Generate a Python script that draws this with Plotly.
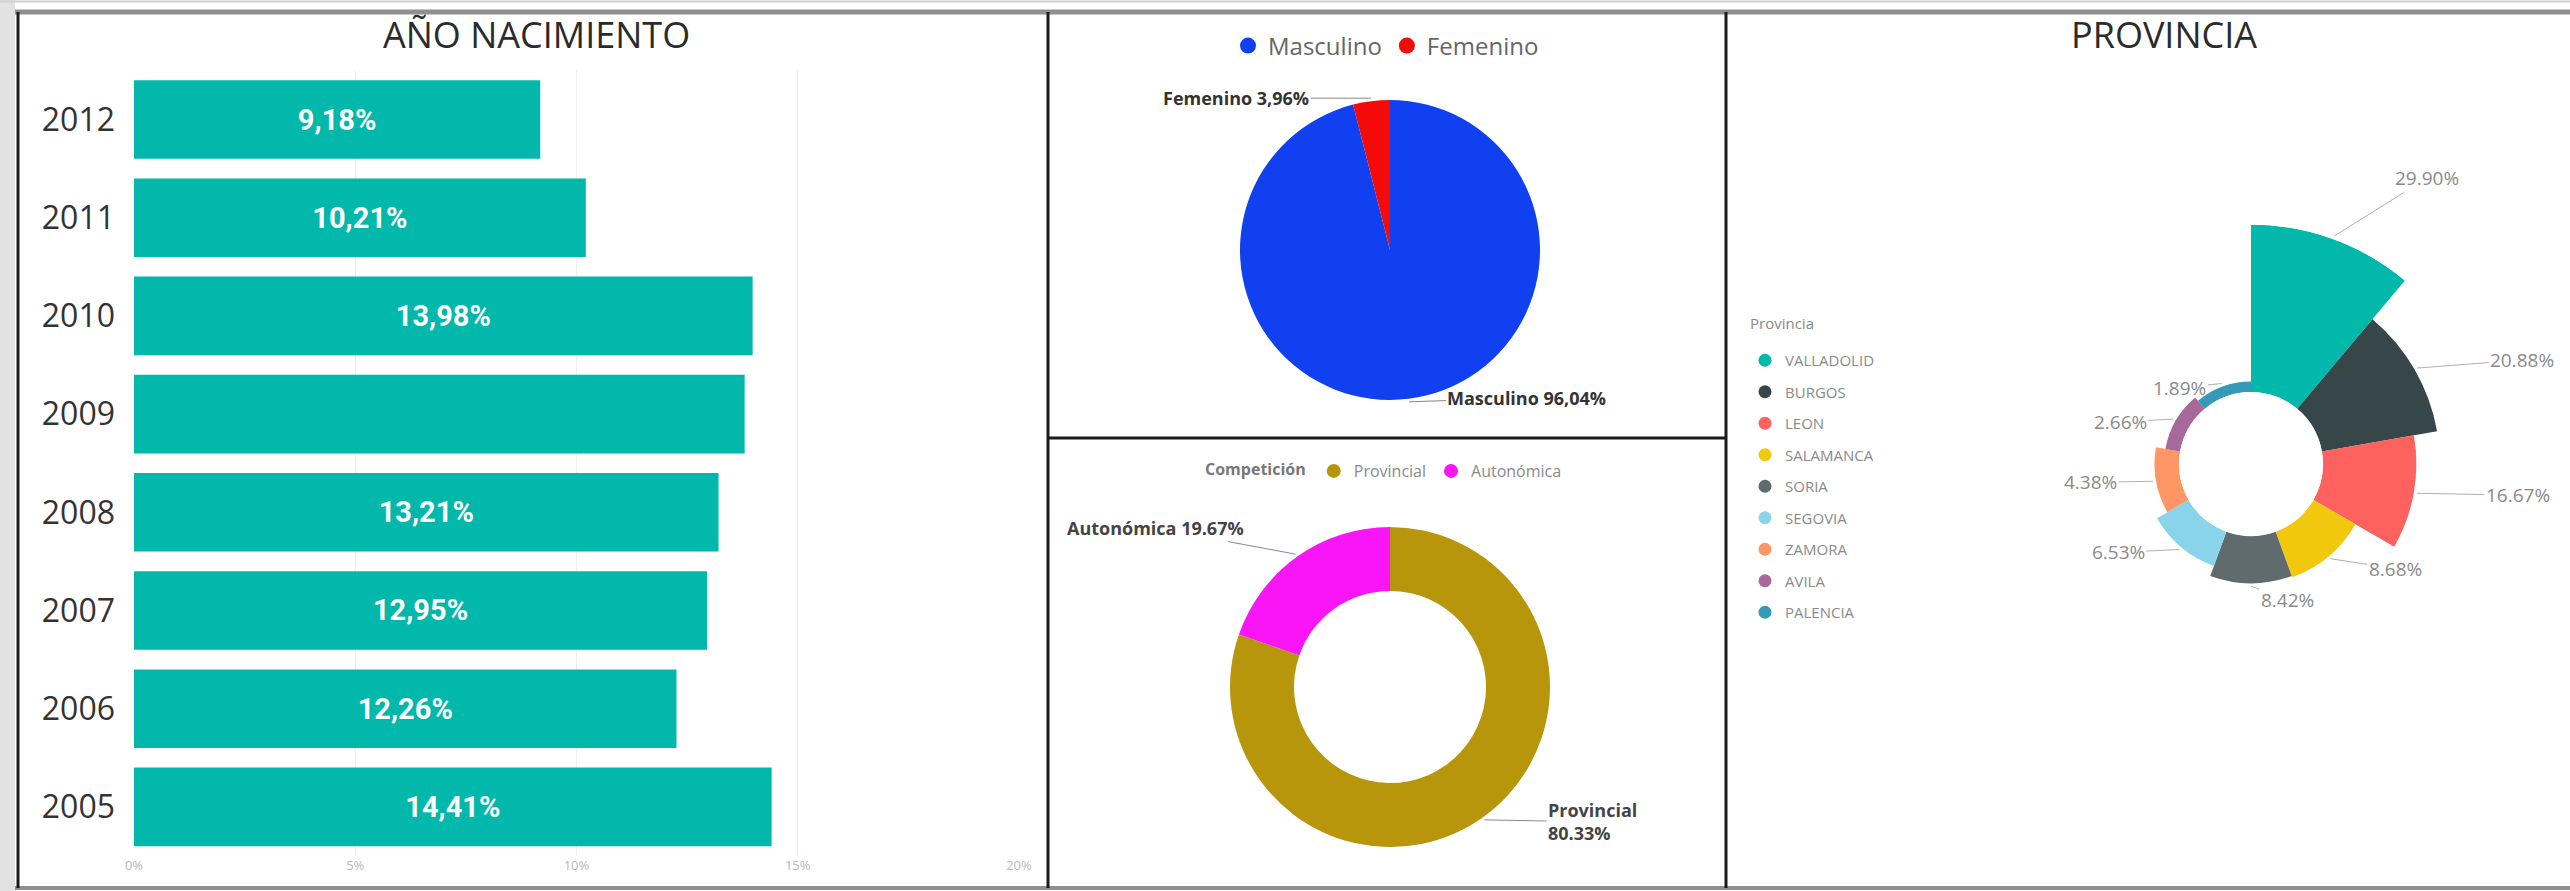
import math
import plotly.graph_objects as go

W, H = 2570, 891

# ---------------- data ----------------
years = ["2012", "2011", "2010", "2009", "2008", "2007", "2006", "2005"]
year_pct = [9.18, 10.21, 13.98, 13.80, 13.21, 12.95, 12.26, 14.41]
year_label_shown = [True, True, True, False, True, True, True, True]
x_ticks = [0, 5, 10, 15, 20]

sex_labels = ["Masculino", "Femenino"]
sex_pct = [96.04, 3.96]
sex_colors = ["#1140F0", "#F50A0A"]

comp_title = "Competición"
comp_labels = ["Provincial", "Autonómica"]
comp_pct = [80.33, 19.67]
comp_colors = ["#B8960C", "#F915F5"]

prov_title = "Provincia"
prov_labels = ["VALLADOLID", "BURGOS", "LEON", "SALAMANCA", "SORIA",
               "SEGOVIA", "ZAMORA", "AVILA", "PALENCIA"]
prov_pct = [29.90, 20.88, 16.67, 8.68, 8.42, 6.53, 4.38, 2.66, 1.89]
prov_colors = ["#01B8AA", "#374649", "#FD625E", "#F2C80F", "#5F6B6D",
               "#8AD4EB", "#FE9666", "#A66999", "#3599B8"]

# label placement (style): pixel offset of each rose label from its segment edge
prov_label_offsets = [(93, -58), (105, -8), (101, 2), (65, 10), (36, 14),
                      (-61, 3), (-62, 1), (-53, 3), (-42, 4)]


def px(x):
    return x / W


def py(y):
    return 1 - y / H


FONT = "Open Sans"

fig = go.Figure()

# ---------------- bar chart (AÑO NACIMIENTO) ----------------
bar_text = [(f"<b>{v:.2f}%</b>".replace(".", ",") if s else "")
            for v, s in zip(year_pct, year_label_shown)]
fig.add_trace(go.Bar(
    y=years, x=year_pct, orientation="h",
    marker=dict(color="#01B8AA", line=dict(width=0)),
    text=bar_text, textposition="inside", insidetextanchor="middle",
    textangle=0,
    textfont=dict(color="white", size=29, family="Roboto"),
    showlegend=False, hoverinfo="skip",
))

# ---------------- pie (sexo) ----------------
PIE1_C = (1390, 250)
PIE1_R = 150
fig.add_trace(go.Pie(
    labels=sex_labels, values=sex_pct, sort=False, direction="clockwise",
    rotation=0, textinfo="none",
    marker=dict(colors=sex_colors, line=dict(width=0)),
    domain=dict(x=[px(PIE1_C[0] - PIE1_R), px(PIE1_C[0] + PIE1_R)],
                y=[py(PIE1_C[1] + PIE1_R), py(PIE1_C[1] - PIE1_R)]),
    showlegend=False, hoverinfo="skip",
))

# ---------------- donut (competición) ----------------
PIE2_C = (1390, 687)
PIE2_R = 160
fig.add_trace(go.Pie(
    labels=comp_labels, values=comp_pct, sort=False, direction="clockwise",
    rotation=0, textinfo="none", hole=0.6,
    marker=dict(colors=comp_colors, line=dict(width=0)),
    domain=dict(x=[px(PIE2_C[0] - PIE2_R), px(PIE2_C[0] + PIE2_R)],
                y=[py(PIE2_C[1] + PIE2_R), py(PIE2_C[1] - PIE2_R)]),
    showlegend=False, hoverinfo="skip",
))

# ---------------- rose / aster (provincia) ----------------
POL_C = (2251, 464)
HOLE_PX = 72
UNIT_PX = 5.6           # pixels per percentage point
R_MAX = max(prov_pct)
POL_R = HOLE_PX + R_MAX * UNIT_PX
fig.add_trace(go.Barpolar(
    theta=prov_labels, r=prov_pct,
    marker=dict(color=prov_colors, line=dict(width=0)),
    showlegend=False, hoverinfo="skip", subplot="polar",
))

# ---------------- legend-only traces (circle markers) ----------------
for n, c in zip(sex_labels, sex_colors):
    fig.add_trace(go.Scatter(x=[None], y=[None], mode="markers", name=n,
                             marker=dict(size=18, color=c, symbol="circle"),
                             legend="legend", hoverinfo="skip"))
for n, c in zip(comp_labels, comp_colors):
    fig.add_trace(go.Scatter(x=[None], y=[None], mode="markers", name=n,
                             marker=dict(size=14, color=c, symbol="circle"),
                             legend="legend2", hoverinfo="skip"))
for n, c in zip(prov_labels, prov_colors):
    fig.add_trace(go.Scatter(x=[None], y=[None], mode="markers", name=n,
                             marker=dict(size=13, color=c, symbol="circle"),
                             legend="legend3", legendgroup=n, hoverinfo="skip"))

# ---------------- annotations: titles & labels ----------------
annotations = [
    dict(text="AÑO NACIMIENTO", x=px(536), y=py(34), xref="paper", yref="paper",
         xanchor="center", yanchor="middle",
         showarrow=False, font=dict(size=36, color="#2b2b2b", family=FONT)),
    dict(text="PROVINCIA", x=px(2164), y=py(34), xref="paper", yref="paper",
         xanchor="center", yanchor="middle",
         showarrow=False, font=dict(size=36, color="#2b2b2b", family=FONT)),
    dict(text=prov_title, x=px(1748), y=py(323), xref="paper", yref="paper",
         xanchor="left", yanchor="middle",
         showarrow=False, font=dict(size=15, color="#888888", family=FONT)),
]


def slice_anchor(center, radius, values, idx, extra=3):
    tot = sum(values)
    start = sum(values[:idx]) / tot * 360.0
    mid = start + values[idx] / tot * 360.0 / 2.0
    a = math.radians(mid)
    r = radius + extra
    return center[0] + r * math.sin(a), center[1] - r * math.cos(a)


def pie_label(center, radius, values, idx, text, ax, ay, align="left", size=18,
              color="#333333"):
    x, y = slice_anchor(center, radius, values, idx)
    return dict(text=text, x=px(x), y=py(y), xref="paper", yref="paper",
                showarrow=True, arrowhead=0, arrowwidth=1, arrowcolor="#888888",
                ax=ax, ay=ay, standoff=0, align=align,
                font=dict(size=size, color=color, family=FONT))


annotations.append(pie_label(PIE1_C, PIE1_R, sex_pct, 1,
                             f"<b>{sex_labels[1]} {sex_pct[1]:.2f}%</b>".replace(".", ","),
                             -135, 0))
annotations.append(pie_label(PIE1_C, PIE1_R, sex_pct, 0,
                             f"<b>{sex_labels[0]} {sex_pct[0]:.2f}%</b>".replace(".", ","),
                             118, -4))
annotations.append(pie_label(PIE2_C, PIE2_R, comp_pct, 1,
                             f"<b>{comp_labels[1]} {comp_pct[1]:.2f}%</b>",
                             -140, -26, color="#444444"))
annotations.append(pie_label(PIE2_C, PIE2_R, comp_pct, 0,
                             f"<b>{comp_labels[0]}<br>{comp_pct[0]:.2f}%</b>",
                             108, 2, color="#444444"))

# rose labels: anchored at the outer edge of each (equal-angle) segment
n_seg = len(prov_pct)
for i, (v, (ox, oy)) in enumerate(zip(prov_pct, prov_label_offsets)):
    ang = math.radians((i + 0.5) * 360.0 / n_seg)
    r_edge = HOLE_PX + v * UNIT_PX + 3
    ex = POL_C[0] + r_edge * math.sin(ang)
    ey = POL_C[1] - r_edge * math.cos(ang)
    annotations.append(dict(
        text=f"{v:.2f}%", x=px(ex), y=py(ey), xref="paper", yref="paper",
        showarrow=True, arrowhead=0, arrowwidth=1, arrowcolor="#b0b0b0",
        ax=ox, ay=oy, standoff=0,
        font=dict(size=19, color="#8a8a8a", family=FONT)))

# ---------------- frame shapes ----------------
def line(x0, y0, x1, y1, color="#1a1a1a", width=3):
    return dict(type="line", xref="paper", yref="paper",
                x0=px(x0), y0=py(y0), x1=px(x1), y1=py(y1),
                line=dict(color=color, width=width), layer="above")


shapes = [
    dict(type="rect", xref="paper", yref="paper", x0=0, x1=px(15), y0=0, y1=1,
         fillcolor="#e2e2e2", line=dict(width=0), layer="below"),
    line(0, 1.5, W, 1.5, color="#cfcfcf", width=2),
    line(15, 12, W, 12, color="#8f8f8f", width=5),
    line(15, 888, W, 888, color="#8f8f8f", width=4),
    line(18, 12, 18, 888),
    line(1048, 12, 1048, 888),
    line(1726, 12, 1726, 888),
    line(1048, 438, 1726, 438),
]

fig.update_layout(
    width=W, height=H, autosize=False,
    margin=dict(l=0, r=0, t=0, b=0, pad=0),
    paper_bgcolor="white", plot_bgcolor="white",
    font=dict(family=FONT, color="#333333"),
    bargap=0.2,
    xaxis=dict(domain=[px(134), px(1019)], range=[0, 20], automargin=False,
               tickvals=x_ticks, ticktext=[f"{t}%" for t in x_ticks],
               showgrid=True, gridcolor="#eeeeee", gridwidth=1,
               zeroline=False, showline=False,
               tickfont=dict(size=13, color="#b8b8b8", family=FONT),
               fixedrange=True),
    yaxis=dict(domain=[py(856), py(70.4)], type="category", automargin=False,
               categoryorder="array", categoryarray=years,
               autorange="reversed", showgrid=False, zeroline=False,
               ticklabelstandoff=18,
               tickfont=dict(size=32, color="#333333", family=FONT),
               fixedrange=True),
    polar=dict(
        domain=dict(x=[px(POL_C[0] - POL_R), px(POL_C[0] + POL_R)],
                    y=[py(POL_C[1] + POL_R), py(POL_C[1] - POL_R)]),
        hole=HOLE_PX / POL_R, bgcolor="rgba(0,0,0,0)", bargap=0,
        radialaxis=dict(range=[0, R_MAX], visible=False),
        angularaxis=dict(type="category", direction="clockwise", rotation=70,
                         visible=False, categoryarray=prov_labels,
                         categoryorder="array"),
    ),
    legend=dict(orientation="h", x=px(1386), xanchor="center",
                y=py(46), yanchor="middle", bgcolor="rgba(0,0,0,0)",
                font=dict(size=24, color="#666666", family=FONT)),
    legend2=dict(orientation="h", x=px(1385), xanchor="center",
                 y=py(471), yanchor="middle", bgcolor="rgba(0,0,0,0)",
                 title=dict(text=f"<b>{comp_title}</b>", side="left",
                            font=dict(size=16, color="#777777", family=FONT)),
                 font=dict(size=16, color="#8a8a8a", family=FONT)),
    legend3=dict(orientation="v", x=px(1745), xanchor="left",
                 y=py(344), yanchor="top", bgcolor="rgba(0,0,0,0)",
                 tracegroupgap=9,
                 font=dict(size=15, color="#8a8a8a", family=FONT)),
    annotations=annotations,
    shapes=shapes,
)

fig.write_html(
    "out.html",
    config={"displayModeBar": False},
    post_script="document.body.style.margin='0';document.body.style.overflow='hidden';",
)
